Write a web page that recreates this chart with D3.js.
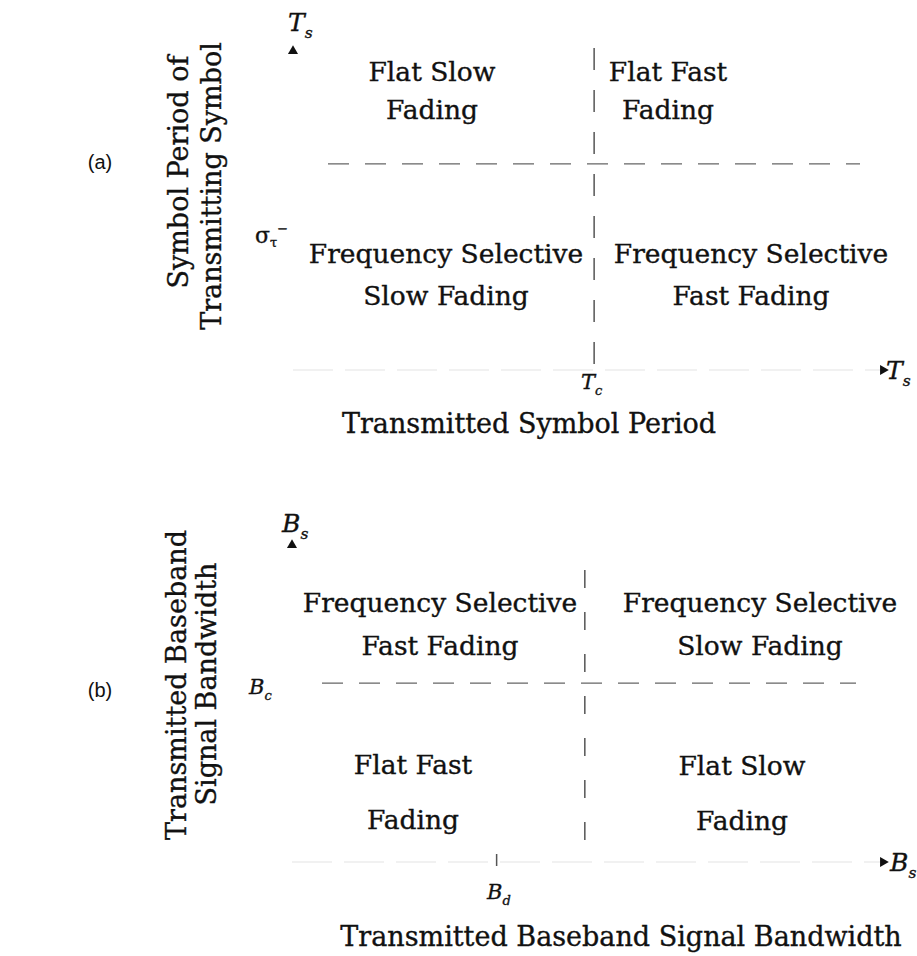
<!DOCTYPE html>
<html>
<head>
<meta charset="utf-8">
<script src="https://cdn.jsdelivr.net/npm/d3@7"></script>
<style>
  body { margin: 0; background: #fff; }
  svg text { font-family: "DejaVu Serif", serif; fill: #111; stroke: #111; stroke-width: 0.35px; }
</style>
</head>
<body>
<svg id="chart" width="917" height="956"></svg>
<script>
// quadrant names, [top-left, top-right, bottom-left, bottom-right]
var quadA = [["Flat Slow", "Fading"], ["Flat Fast", "Fading"],
             ["Frequency Selective", "Slow Fading"], ["Frequency Selective", "Fast Fading"]];
var quadB = [["Frequency Selective", "Fast Fading"], ["Frequency Selective", "Slow Fading"],
             ["Flat Fast", "Fading"], ["Flat Slow", "Fading"]];
// thresholds in axis units (0..100)
var thresholdsA = {x: 51.3, y: 65};
var thresholdsB = {x: 49.8, y: 56.8, xTick: 34.8};
var axisTitlesA = ["Transmitted Symbol Period", "Symbol Period of", "Transmitting Symbol"];
var axisTitlesB = ["Transmitted Baseband Signal Bandwidth", "Transmitted Baseband", "Signal Bandwidth"];

var svg = d3.select("#chart");

function sym(g, x, y, main, sub, size) {
  var t = g.append("text").attr("x", x).attr("y", y)
    .style("font-style", "italic").style("font-size", size + "px");
  t.append("tspan").text(main);
  t.append("tspan").attr("dy", size * 0.28).style("font-size", (size * 0.62) + "px").text(sub);
  return t;
}

function panel(o) {
  var g = svg.append("g");
  var x = d3.scaleLinear().domain([0, 100]).range(o.xr);
  var y = d3.scaleLinear().domain([0, 100]).range(o.yr);

  // faint axes
  g.append("line").attr("x1", x(0)).attr("x2", x(100)).attr("y1", y(0)).attr("y2", y(0))
    .attr("stroke", "#e4e4e4").attr("stroke-width", 1.2).attr("stroke-dasharray", "40,12");
  g.append("path").attr("d", d3.symbol(d3.symbolTriangle, 44)())
    .attr("transform", "translate(" + x(0) + "," + (y(100) - 2) + ")").attr("fill", "#111");
  g.append("path").attr("d", d3.symbol(d3.symbolTriangle, 44)())
    .attr("transform", "translate(" + (x(100) + 3) + "," + y(0) + ") rotate(90)").attr("fill", "#111");

  // threshold dashes
  g.append("line").attr("x1", x(o.th.x)).attr("x2", x(o.th.x))
    .attr("y1", o.vy[0]).attr("y2", o.vy[1])
    .attr("stroke", "#555").attr("stroke-width", 1.5).attr("stroke-dasharray", o.vdash);
  g.append("line").attr("x1", o.hx[0]).attr("x2", o.hx[1])
    .attr("y1", y(o.th.y)).attr("y2", y(o.th.y))
    .attr("stroke", "#666").attr("stroke-width", 1.2).attr("stroke-dasharray", "21,16");

  // quadrant text
  o.quad.forEach(function (lines, i) {
    var p = o.labelPos[i];
    lines.forEach(function (s, k) {
      g.append("text").attr("x", p[0]).attr("y", p[1] + k * o.lineGap[i])
        .attr("text-anchor", "middle").style("font-size", "26.5px").text(s);
    });
  });

  // axis titles
  g.append("text").attr("x", o.xt[0]).attr("y", o.xt[1]).attr("text-anchor", "middle")
    .style("font-size", "27px").text(o.titles[0]);
  [0, 1].forEach(function (k) {
    g.append("text").attr("transform", "translate(" + o.yt[k][0] + "," + o.yt[k][1] + ") rotate(-90)")
      .attr("text-anchor", "middle").style("font-size", "27px").text(o.titles[k + 1]);
  });

  g.append("text").attr("x", 100).attr("y", o.tag[1]).attr("text-anchor", "middle")
    .style("font-family", "'Liberation Sans', Arial, sans-serif").style("stroke-width", 0)
    .style("font-size", "20px").text(o.tag[0]);
  return {g: g, x: x, y: y};
}

var a = panel({
  xr: [293, 880], yr: [370, 53], th: thresholdsA, quad: quadA,
  vy: [48, 368], vdash: "22,20", hx: [328, 860],
  labelPos: [[432, 81], [668, 81], [446, 263], [751, 263]], lineGap: [38, 38, 42, 42],
  titles: axisTitlesA, xt: [529, 433], yt: [[188, 172], [221, 186]], tag: ["(a)", 169]
});
sym(a.g, 288, 31, "T", "s", 25);
sym(a.g, 886, 379, "T", "s", 25);
sym(a.g, 581, 389, "T", "c", 21);
var sig = a.g.append("text").attr("x", 255).attr("y", 243).style("font-size", "22px");
sig.append("tspan").text("σ");
sig.append("tspan").attr("dy", 4).style("font-size", "13px").text("τ");
sig.append("tspan").attr("dy", -14).style("font-size", "13px").text("−");

var b = panel({
  xr: [292, 880], yr: [862, 547], th: thresholdsB, quad: quadB,
  vy: [570, 862], vdash: "18,24", hx: [322, 856],
  labelPos: [[440, 612], [760, 612], [413, 774], [742, 775]], lineGap: [43, 43, 55, 55],
  titles: axisTitlesB, xt: [621, 946], yt: [[186, 685], [216, 684]], tag: ["(b)", 697]
});
b.g.append("line").attr("x1", b.x(thresholdsB.xTick)).attr("x2", b.x(thresholdsB.xTick))
  .attr("y1", 854).attr("y2", 866).attr("stroke", "#555").attr("stroke-width", 1.5);
sym(b.g, 282, 532, "B", "s", 25);
sym(b.g, 890, 871, "B", "s", 25);
sym(b.g, 249, 694, "B", "c", 21);
sym(b.g, 487, 899, "B", "d", 21);
</script>
</body>
</html>
